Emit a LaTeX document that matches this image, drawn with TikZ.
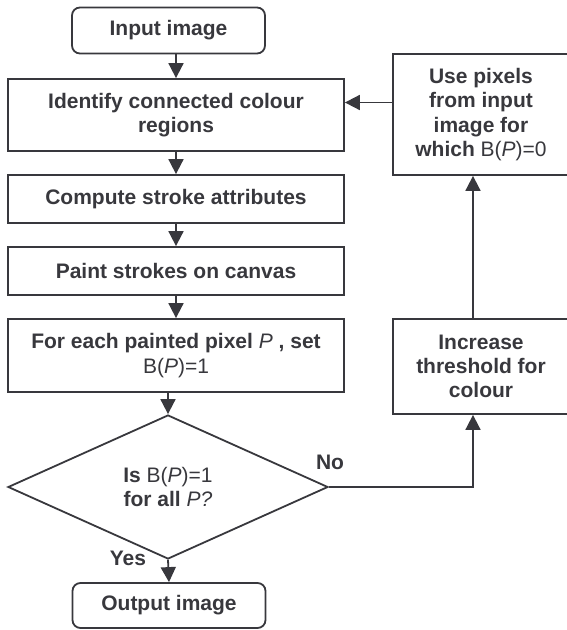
\documentclass[tikz,border=0pt]{standalone}
\usepackage{fontspec}
\setmainfont{Liberation Sans}
\usetikzlibrary{arrows.meta,shapes.geometric}
\definecolor{ink}{RGB}{56,56,61}
\newcommand\myP{\textnormal{\textit{P}}}
\newcommand\myB[1]{\textnormal{B(\textit{P})#1}}
\tikzset{
  base/.style={draw=ink, line width=1.8pt, text=ink, inner sep=0pt, align=center,
    font=\fontsize{21}{24.3}\selectfont\bfseries},
  procbox/.style={base, rectangle, minimum width=336pt},
  termbox/.style={base, rectangle, rounded corners=8pt, minimum width=193pt, minimum height=46pt},
  sidebox/.style={base, rectangle, minimum width=176pt},
  decbox/.style={base, diamond, minimum width=320pt, minimum height=144pt},
  lbl/.style={text=ink, inner sep=0pt, font=\fontsize{21}{24.3}\selectfont\bfseries},
  arr/.style={draw=ink, line width=1.8pt, -{Triangle[width=15pt,length=15pt]}}
}
\begin{document}
\begin{tikzpicture}[x=1pt,y=-1pt]
\useasboundingbox (0,0) rectangle (566,630);
\node[termbox] (input) at (168.5,30.5) {Input image};
\node[procbox, minimum height=72pt] (ident) at (176,115) {Identify connected colour\\regions};
\node[procbox, minimum height=48pt] (comp) at (176,199) {Compute stroke attributes};
\node[procbox, minimum height=48pt] (paint) at (176,271) {Paint strokes on canvas};
\node[procbox, minimum height=73pt] (each) at (176,355.5) {For each painted pixel \myP\ , set\\\myB{=1}};
\node[decbox] (dec) at (168,487) {Is \myB{=1}\\for all \textnormal{\textit{P?}}};
\node[termbox, minimum height=45pt] (out) at (169,605.5) {Output image};
\node[sidebox, minimum height=121pt] (use) at (481,114.5) {Use pixels\\from input\\image for\\which \myB{=0}};
\node[sidebox, minimum height=95pt] (inc) at (481,366.5) {Increase\\threshold for\\colour};
\node[lbl] (no) at (330,462) {No};
\node[lbl] (yes) at (128,558) {Yes};
\draw[arr] (input.south -| ident.north) -- (ident.north);
\draw[arr] (ident.south) -- (comp.north);
\draw[arr] (comp.south) -- (paint.north);
\draw[arr] (paint.south) -- (each.north);
\draw[arr] (each.south -| dec.north) -- (dec.north);
\draw[arr] (dec.south) -- (out.north);
\draw[arr] (dec.east) -| ([xshift=-8pt]inc.south);
\draw[arr] ([xshift=-8pt]inc.north) -- ([xshift=-8pt]use.south);
\draw[arr] ([yshift=12pt]use.west) -- ([yshift=12pt]use.west -| ident.east);
\end{tikzpicture}
\end{document}
